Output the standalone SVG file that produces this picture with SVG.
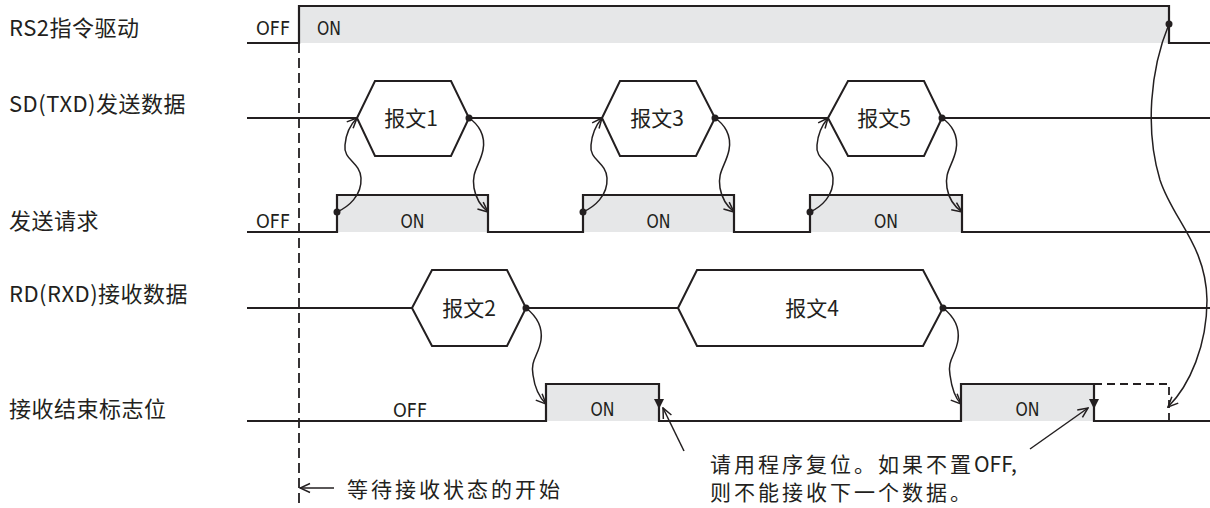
<svg xmlns="http://www.w3.org/2000/svg" width="1210" height="508" viewBox="0 0 1210 508">
<style>
.w{fill:none;stroke:#231f20;stroke-width:2.2}
.f{fill:#e6e7e8;stroke:none}
.hx{fill:#fff;stroke:#231f20;stroke-width:2}
.c{fill:none;stroke:#231f20;stroke-width:1.5}
.lbl{font-family:"Noto Sans CJK SC","Noto Sans",sans-serif;font-size:22px;fill:#231f20;letter-spacing:0.5px}
.st{font-family:"DejaVu Sans","Noto Sans",sans-serif;font-size:20px;fill:#231f20}
.hl{font-family:"Noto Sans CJK SC","Noto Sans",sans-serif;font-size:21px;fill:#231f20;text-anchor:middle}
.ann{font-family:"Noto Sans CJK SC","Noto Sans",sans-serif;font-size:21px;fill:#231f20;letter-spacing:3px}
.dot{fill:#231f20}
</style>
<defs>
<marker id="oa" viewBox="0 0 12 12" refX="11" refY="6" markerWidth="12" markerHeight="12" markerUnits="userSpaceOnUse" orient="auto">
<path d="M1,1.5 L11,6 L1,10.5" fill="none" stroke="#231f20" stroke-width="1.5"/>
</marker>
</defs>
<rect width="1210" height="508" fill="#fff"/>

<g id="labels">
<text class="lbl" x="9" y="36">RS2指令驱动</text>
<text class="lbl" x="9" y="112">SD(TXD)发送数据</text>
<text class="lbl" x="9" y="229">发送请求</text>
<text class="lbl" x="9" y="302">RD(RXD)接收数据</text>
<text class="lbl" x="9" y="417">接收结束标志位</text>
</g>

<g id="start-line">
<line x1="299" y1="43" x2="299" y2="508" stroke="#231f20" stroke-width="1.8" stroke-dasharray="10 5"/>
</g>

<g id="rs2">
<rect class="f" x="299" y="6" width="870" height="37"/>
<path class="w" d="M247,43 H299 V6 H1169 V43 H1210"/>
<text class="st" x="256" y="35" textLength="34" lengthAdjust="spacingAndGlyphs">OFF</text>
<text class="st" x="317" y="35" textLength="24" lengthAdjust="spacingAndGlyphs">ON</text>
</g>

<g id="sd">
<path class="w" d="M247,118 H357 M469,118 H602 M715,118 H828 M942,118 H1210"/>
<g id="msg1"><polygon class="hx" points="357,118 375,81 451,81 469,118 451,156 375,156"/><text class="hl" x="411" y="126">报文1</text></g>
<g id="msg3"><polygon class="hx" points="602,118 620,81 696,81 715,118 696,156 620,156"/><text class="hl" x="657" y="126">报文3</text></g>
<g id="msg5"><polygon class="hx" points="828,118 848,81 924,81 942,118 924,156 848,156"/><text class="hl" x="884" y="126">报文5</text></g>
</g>

<g id="req">
<rect class="f" x="337" y="195" width="151" height="37"/>
<rect class="f" x="583" y="195" width="151" height="37"/>
<rect class="f" x="810" y="195" width="152" height="37"/>
<path class="w" d="M247,232 H337 V195 H488 V232 H583 V195 H734 V232 H810 V195 H962 V232 H1210"/>
<text class="st" x="256" y="228" textLength="34" lengthAdjust="spacingAndGlyphs">OFF</text>
<text class="st" x="412.5" y="228" text-anchor="middle" textLength="24" lengthAdjust="spacingAndGlyphs">ON</text>
<text class="st" x="658.5" y="228" text-anchor="middle" textLength="24" lengthAdjust="spacingAndGlyphs">ON</text>
<text class="st" x="886" y="228" text-anchor="middle" textLength="24" lengthAdjust="spacingAndGlyphs">ON</text>
</g>

<g id="rd">
<path class="w" d="M247,308 H412 M526,308 H678 M943,308 H1210"/>
<g id="msg2"><polygon class="hx" points="412,308 432,270 507,270 526,308 507,346 432,346"/><text class="hl" x="469" y="316">报文2</text></g>
<g id="msg4"><polygon class="hx" points="678,308 697,270 923,270 943,308 923,346 697,346"/><text class="hl" x="812" y="316">报文4</text></g>
</g>

<g id="flag">
<rect class="f" x="546" y="384" width="113" height="37"/>
<rect class="f" x="961" y="384" width="133" height="37"/>
<path class="w" d="M247,421 H546 V384 H659 V421 H961 V384 H1094 V421 H1210"/>
<path d="M1094,384 H1169 V421" fill="none" stroke="#231f20" stroke-width="1.8" stroke-dasharray="8 5"/>
<polygon class="dot" points="654,399 664,399 659,409"/>
<polygon class="dot" points="1089,399 1099,399 1094,409"/>
<text class="st" x="410" y="417" text-anchor="middle" textLength="34" lengthAdjust="spacingAndGlyphs">OFF</text>
<text class="st" x="602.5" y="416" text-anchor="middle" textLength="24" lengthAdjust="spacingAndGlyphs">ON</text>
<text class="st" x="1027.5" y="416" text-anchor="middle" textLength="24" lengthAdjust="spacingAndGlyphs">ON</text>
</g>

<g id="connectors">
<circle class="dot" cx="337" cy="212" r="3.5"/>
<circle class="dot" cx="583" cy="212" r="3.5"/>
<circle class="dot" cx="810" cy="212" r="3.5"/>
<circle class="dot" cx="469" cy="118" r="3.5"/>
<circle class="dot" cx="715" cy="118" r="3.5"/>
<circle class="dot" cx="942" cy="118" r="3.5"/>
<circle class="dot" cx="526" cy="308" r="3.5"/>
<circle class="dot" cx="943" cy="308" r="3.5"/>
<circle class="dot" cx="1169" cy="24" r="3.5"/>
<path class="c" marker-end="url(#oa)" d="M337,212 C348,207 362,196 361,178 C360,162 343,160 345,145 C346,132 351,124 357,118"/>
<path class="c" marker-end="url(#oa)" d="M583,212 C594,207 608,196 607,178 C606,162 589,160 591,145 C592,132 597,124 602,118"/>
<path class="c" marker-end="url(#oa)" d="M810,212 C821,207 834,196 833,178 C832,162 815,160 817,145 C818,132 823,124 828,118"/>
<path class="c" marker-end="url(#oa)" d="M469,118 C478,124 486,135 483,150 C480,165 471,172 474,188 C476,200 482,207 488,212"/>
<path class="c" marker-end="url(#oa)" d="M715,118 C724,124 732,135 729,150 C726,165 717,172 720,188 C722,200 728,207 734,212"/>
<path class="c" marker-end="url(#oa)" d="M942,118 C951,124 959,135 956,150 C953,165 944,172 947,188 C949,200 955,207 962,212"/>
<path class="c" marker-end="url(#oa)" d="M526,308 C535,315 543,325 541,340 C539,355 530,360 533,375 C535,390 540,398 546,404"/>
<path class="c" marker-end="url(#oa)" d="M943,308 C952,315 960,325 958,340 C956,355 947,360 950,375 C952,390 955,398 961,404"/>
<path class="c" marker-end="url(#oa)" d="M1169,24 C1150,70 1145,130 1160,180 C1173,220 1206,245 1207,300 C1207,345 1190,385 1168,407"/>
<line class="c" marker-end="url(#oa)" x1="684" y1="451" x2="663" y2="408"/>
<line class="c" marker-end="url(#oa)" x1="1030" y1="449" x2="1088" y2="408"/>
<line class="c" marker-end="url(#oa)" x1="334" y1="488" x2="300" y2="488"/>
</g>

<g id="notes">
<text class="ann" x="347" y="497">等待接收状态的开始</text>
<text class="ann" x="710" y="472">请用程序复位。如果不置<tspan letter-spacing="0">OFF,</tspan></text>
<text class="ann" x="710" y="500">则不能接收下一个数据。</text>
</g>
</svg>
